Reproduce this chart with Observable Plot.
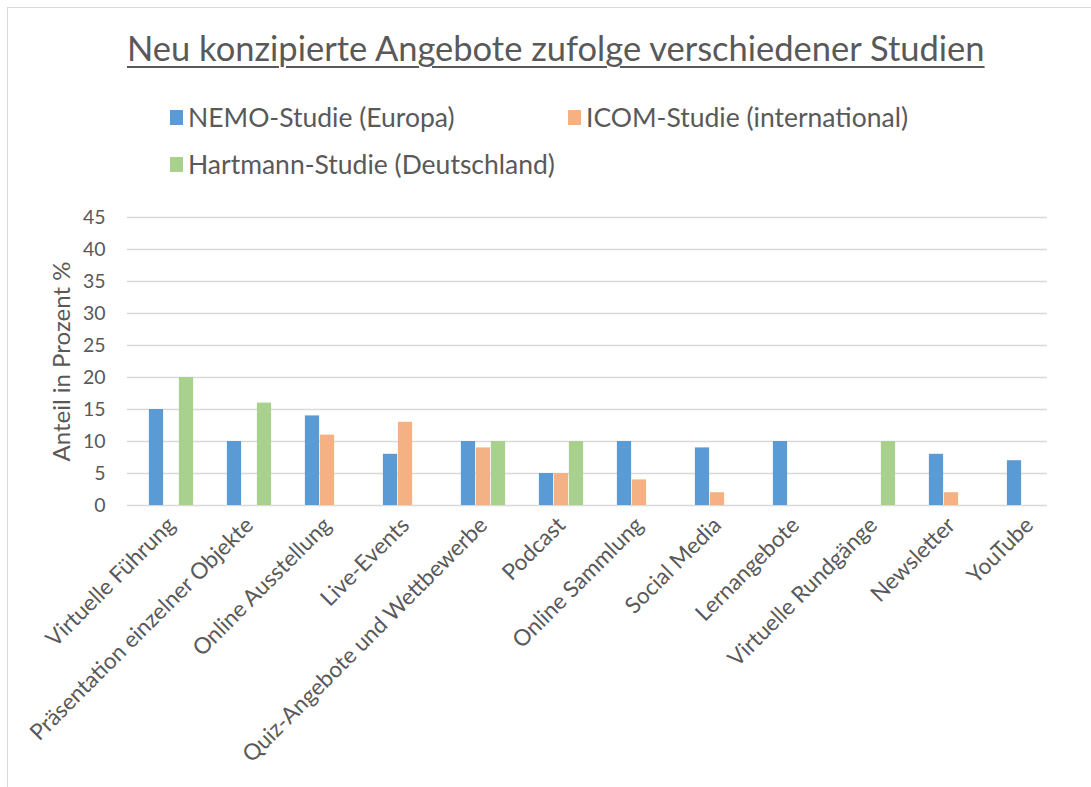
<!DOCTYPE html>
<html>
<head>
<meta charset="utf-8">
<script src="https://cdn.jsdelivr.net/npm/d3@7"></script>
<script src="https://cdn.jsdelivr.net/npm/@observablehq/plot@0.6"></script>
<style>
  html, body { margin: 0; padding: 0; background: #fff; }
  body { width: 1091px; height: 787px; position: relative; overflow: hidden; font-family: Lato, "Open Sans", sans-serif; color: #595959; }
  #frame { position: absolute; left: 7px; top: 7px; width: 1090px; height: 790px; border: 1px solid #d9d9d9; box-sizing: border-box; }
  #title { position: absolute; left: 127px; top: 27px; font-size: 34.5px; text-decoration: underline; text-decoration-thickness: 2px; text-underline-offset: 5px; white-space: nowrap; }
  .leg { position: absolute; font-size: 26.5px; display: flex; align-items: center; white-space: nowrap; }
  .sw { width: 13px; height: 15px; margin-right: 5px; }
  #chart { position: absolute; left: 0; top: 200px; }
</style>
</head>
<body>
<div id="frame"></div>
<div id="title">Neu konzipierte Angebote zufolge verschiedener Studien</div>
<div id="legend"></div>
<div id="chart"></div>
<script>
const categories = ["Virtuelle Führung", "Präsentation einzelner Objekte", "Online Ausstellung", "Live-Events", "Quiz-Angebote und Wettbewerbe", "Podcast", "Online Sammlung", "Social Media", "Lernangebote", "Virtuelle Rundgänge", "Newsletter", "YouTube"];
const series = ["NEMO-Studie (Europa)", "ICOM-Studie (international)", "Hartmann-Studie (Deutschland)"];
const nemo = [15, 10, 14, 8, 10, 5, 10, 9, 10, 0, 8, 7];
const icom = [0, 0, 11, 13, 9, 5, 4, 2, 0, 0, 2, 0];
const hartmann = [20, 16, 0, 0, 10, 10, 0, 0, 0, 10, 0, 0];
const colors = ["#5B9BD5", "#F4B183", "#A9D18E"];
const yTicks = [0, 5, 10, 15, 20, 25, 30, 35, 40, 45];

const values = [nemo, icom, hartmann];
const rows = values.map((vals, s) => categories.map((c, i) => ({category: c, series: series[s], value: vals[i]})).filter(d => d.value > 0));

// legend
const legendPos = [[170, 101], [568, 101], [170, 148]];
const legend = document.getElementById("legend");
series.forEach((s, i) => {
  const el = document.createElement("div");
  el.className = "leg";
  el.style.left = legendPos[i][0] + "px";
  el.style.top = legendPos[i][1] + "px";
  el.innerHTML = `<span class="sw" style="background:${colors[i]}"></span><span>${s}</span>`;
  legend.appendChild(el);
});

const W = 1091, mL = 127, mR = 44;
const xRange = [127.6, 1073];
const band = (xRange[1] - xRange[0]) / categories.length;
const barW = 15;
const inset = (band - barW) / 2;
const offsets = [-barW, 0, barW];

const chart = Plot.plot({
  width: W,
  height: 575,
  marginLeft: mL,
  marginRight: mR,
  marginTop: 17,
  marginBottom: 270,
  style: {fontFamily: "Lato, 'Open Sans', sans-serif", color: "#595959", background: "transparent"},
  x: {domain: categories, padding: 0, range: xRange},
  y: {domain: [0, 45]},
  marks: [
    Plot.ruleY(yTicks, {stroke: "#d9d9d9", strokeWidth: 1.5}),
    ...rows.map((r, s) => Plot.barY(r, {
      x: "category", y: "value", fill: colors[s],
      dx: offsets[s],
      insetLeft: inset, insetRight: inset
    })),
    Plot.axisX({tickRotate: -45, tickSize: 0, tickPadding: 16, fontSize: 22.5, label: null, fill: "#595959"}),
    Plot.axisY({ticks: yTicks, tickSize: 0, tickPadding: 22, fontSize: 19.5, fill: "#595959", label: null}),
    Plot.axisY({ticks: [], tickSize: 0, fontSize: 24, fill: "#595959", label: "Anteil in Prozent %", labelAnchor: "center", labelArrow: "none", labelOffset: 75})
  ]
});
document.getElementById("chart").appendChild(chart);
</script>
</body>
</html>
